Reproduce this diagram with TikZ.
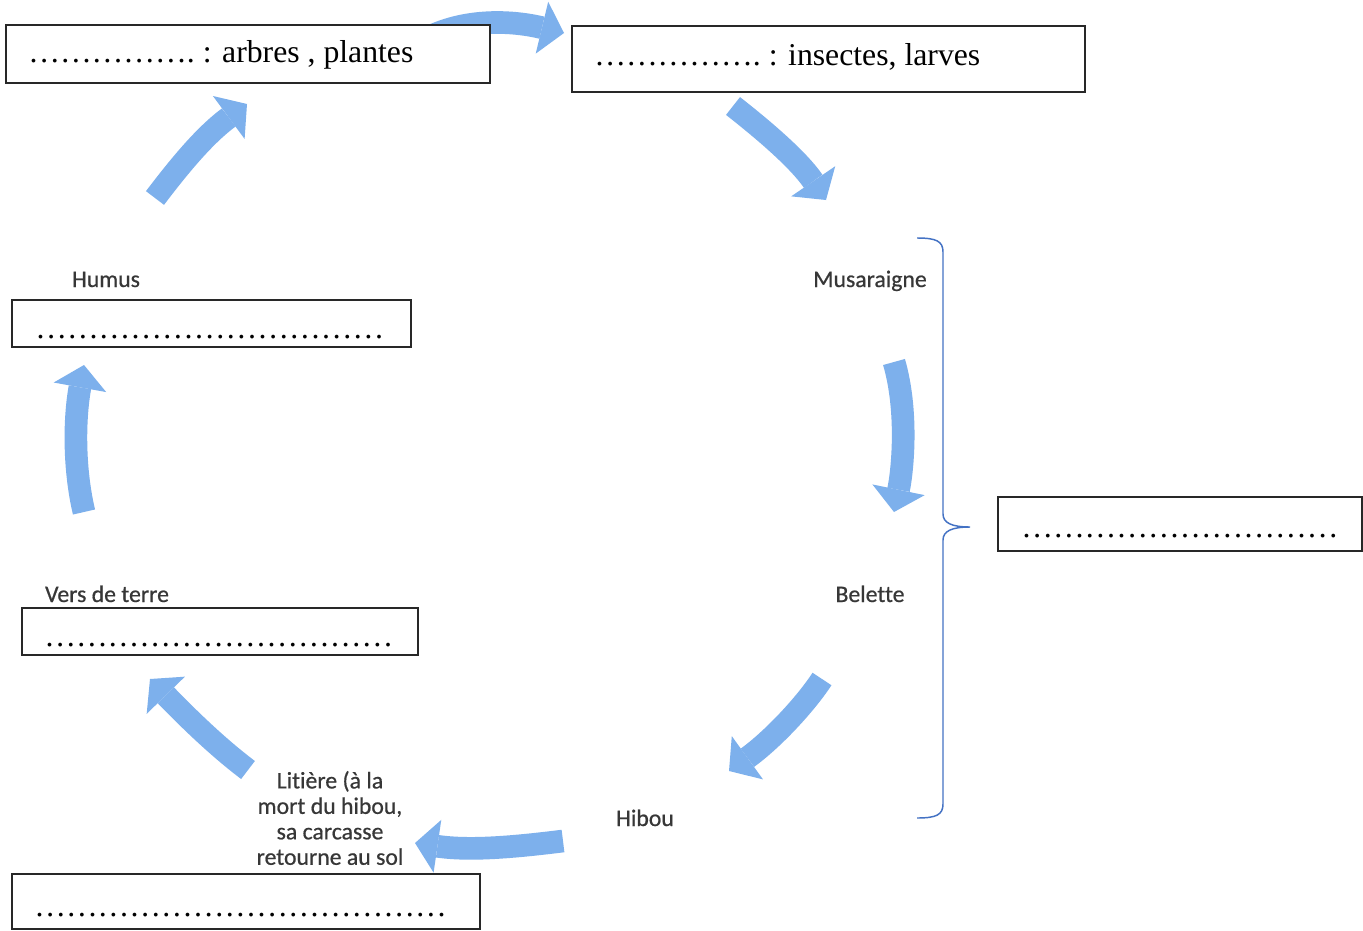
\documentclass[tikz,border=0pt]{standalone}
\usepackage{fontspec}
\setmainfont{Liberation Serif}
\newfontfamily\labfont[Ligatures=NoCommon,FakeBold=0.6]{Carlito}
\usetikzlibrary{arrows.meta,fit}
\definecolor{arrowblue}{RGB}{125,176,236}
\definecolor{bracecol}{RGB}{68,114,196}
\definecolor{labgray}{RGB}{55,55,55}
\definecolor{boxline}{RGB}{40,40,40}
\def\el{…}
\begin{document}
\begin{tikzpicture}[x=0.75pt,y=-0.75pt,
  flow/.style={draw=arrowblue, line width=17pt,
    -{Triangle[length=17pt,width=40pt,line width=0pt,fill=arrowblue]}},
  box/.style={draw=boxline, line width=0.9pt, fill=white, inner sep=0pt},
  boxtext/.style={font=\fontsize{23.8}{28}\selectfont, inner sep=0pt, anchor=base west},
  lab/.style={font=\labfont\fontsize{17.8}{19.1}\selectfont, text=labgray, inner sep=0pt, align=center},
  brace/.style={draw=bracecol, line width=1.1pt}
]
\fill[white] (0,0) rectangle (1363,931);
\useasboundingbox (0,0) rectangle (1363,931);

% arrow end points
\coordinate (a1s) at (420,42);  \coordinate (a1e) at (564,33);
\coordinate (a2s) at (733,106); \coordinate (a2e) at (826,200);
\coordinate (a3s) at (894,362); \coordinate (a3e) at (894,512);
\coordinate (a4s) at (822,679); \coordinate (a4e) at (729,771);
\coordinate (a5s) at (563,841); \coordinate (a5e) at (415,843);
\coordinate (a6s) at (248,770); \coordinate (a6e) at (150,679);
\coordinate (a7s) at (84,512);  \coordinate (a7e) at (84,365);
\coordinate (a8s) at (155,198); \coordinate (a8e) at (247,104);

\draw[flow] (a1s) .. controls (460,18) and (510,20) .. (a1e);
\draw[flow] (a2s) .. controls (770,135) and (800,162) .. (a2e);
\draw[flow] (a3s) .. controls (908,410) and (903,468) .. (a3e);
\draw[flow] (a4s) .. controls (805,705) and (772,740) .. (a4e);
\draw[flow] (a5s) .. controls (515,847) and (470,851) .. (a5e);
\draw[flow] (a6s) .. controls (215,745) and (185,715) .. (a6e);
\draw[flow] (a7s) .. controls (74,470) and (74,420) .. (a7e);
\draw[flow] (a8s) .. controls (180,165) and (205,135) .. (a8e);

% boxes
\node[box, fit={(6,25)(490,83)}] (b1) {};
\node[box, fit={(572,26)(1085,92)}] (b2) {};
\node[box, fit={(12,300)(411,347)}] (b3) {};
\node[box, fit={(22,608)(418,655)}] (b4) {};
\node[box, fit={(998,497)(1362,551)}] (b5) {};
\node[box, fit={(12,874)(480,929)}] (b6) {};

\node[boxtext] (t1) at (28,63) {\el\el\el\el\el.\ : arbres , plantes};
\node[boxtext] (t2) at (594,66) {\el\el\el\el\el.\ : insectes, larves};
\node[boxtext] (t3) at (35,338) {\el\el\el\el\el\el\el\el\el\el\el};
\node[boxtext] (t4) at (44,646) {\el\el\el\el\el\el\el\el\el\el\el};
\node[boxtext] (t5) at (1021,537) {\el\el\el\el\el\el\el\el\el\el};
\node[boxtext] (t6) at (34,916) {\el\el\el\el\el\el\el\el\el\el\el\el\el};

% labels
\node[lab, anchor=base] (humus) at (106,287) {Humus};
\node[lab, anchor=base] (musa) at (870,287) {Musaraigne};
\node[lab, anchor=base] (belette) at (870,602) {Belette};
\node[lab, anchor=base] (vers) at (107,602) {Vers de terre};
\node[lab, anchor=base] (hibou) at (645,826) {Hibou};
\node[lab] (litiere) at (330,818) {Litière (à la\\mort du hibou,\\sa carcasse\\retourne au sol};

% brace
\coordinate (bracetip) at (970,527);
\draw[brace] (917,238) .. controls (936,238) and (943,241) .. (943,252) -- (943,514)
  .. controls (943,523) and (952,527) .. (bracetip)
  .. controls (952,527) and (943,531) .. (943,540) -- (943,804)
  .. controls (943,815) and (936,818) .. (917,818);
\end{tikzpicture}
\end{document}
